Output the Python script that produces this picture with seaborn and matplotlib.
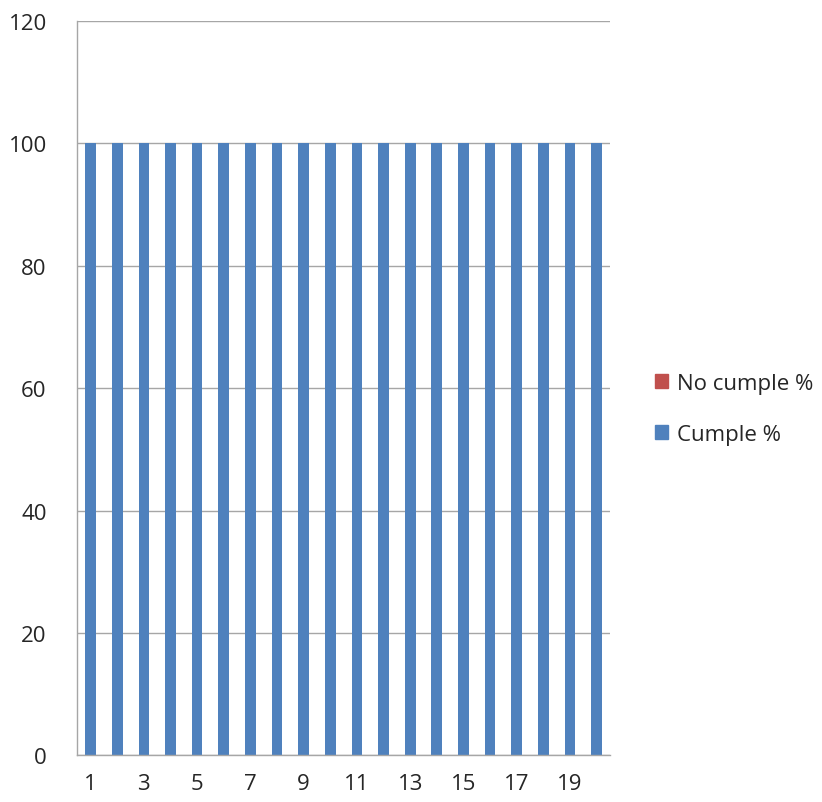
import numpy as np
import pandas as pd
import matplotlib
matplotlib.use("Agg")
import matplotlib.pyplot as plt
import seaborn as sns
from matplotlib.patches import Patch

# ── Data ──────────────────────────────────────────────────────────────────────
categories = [str(i) for i in range(1, 21)]
cumple     = [100] * 20
no_cumple  = [0] * 20

BLUE = "#4F81BD"
RED  = "#C0504D"
GRID = "#A6A6A6"
TEXT = "#262626"

df = pd.DataFrame({"cat": categories, "cumple": cumple, "no_cumple": no_cumple})
df["total"] = df["cumple"] + df["no_cumple"]

sns.set_style("white")
plt.rcParams["font.family"] = ["Open Sans", "DejaVu Sans"]

fig = plt.figure(figsize=(8.22, 8.03), dpi=100)
ax = fig.add_axes([0.094, 0.058, 0.648, 0.915])

# stacked: total (red) underneath, cumple (blue) on top
sns.barplot(data=df, x="cat", y="total", color=RED, width=0.4, ax=ax,
            saturation=1, order=categories, linewidth=0)
sns.barplot(data=df, x="cat", y="cumple", color=BLUE, width=0.4, ax=ax,
            saturation=1, order=categories, linewidth=0)

ax.set_ylim(0, 120)
ax.set_yticks(np.arange(0, 121, 20))
ax.set_xlim(-0.5, len(categories) - 0.5)
ax.yaxis.grid(True, color=GRID, linewidth=1)
ax.set_axisbelow(True)

# tick marks at category boundaries, labels on odd categories
ax.set_xticks(np.arange(-0.5, len(categories), 1.0))
ax.set_xticklabels([])
ax.set_xticks(np.arange(0, len(categories), 2), minor=True)
ax.set_xticklabels(categories[::2], minor=True)
ax.tick_params(axis="x", which="major", length=8, color=GRID, width=1, direction="out")
ax.tick_params(axis="x", which="minor", length=0, labelsize=16, pad=13, labelcolor=TEXT)
ax.tick_params(axis="y", length=9, color=GRID, width=1, labelsize=16, pad=13, labelcolor=TEXT)

ax.set_xlabel("")
ax.set_ylabel("")
for s in ["top", "right"]:
    ax.spines[s].set_visible(False)
for s in ["left", "bottom"]:
    ax.spines[s].set_color(GRID)
    ax.spines[s].set_linewidth(1)

handles = [Patch(color=RED, label="No cumple %"), Patch(color=BLUE, label="Cumple %")]
fig.legend(handles=handles, loc="center left", bbox_to_anchor=(0.772, 0.49),
           frameon=False, fontsize=16, handlelength=0.6, handleheight=0.6,
           handletextpad=0.4, labelspacing=1.35, labelcolor=TEXT)

fig.savefig("out.png", dpi=100)
